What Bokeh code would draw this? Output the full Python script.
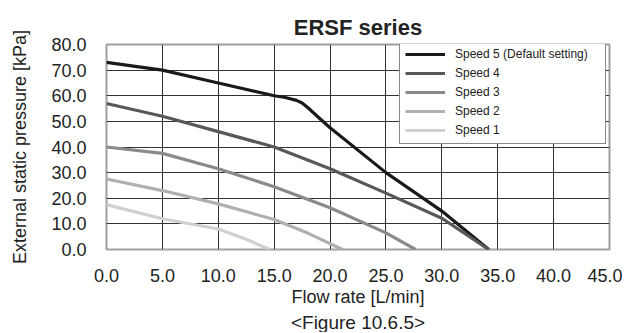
from bokeh.plotting import figure
from bokeh.models import FixedTicker, Legend, LegendItem, Title, CustomJSTickFormatter
from bokeh.embed import file_html
from bokeh.resources import INLINE

# ---- data ----
flow_s5 = [0, 5, 10, 15, 16, 17, 17.5, 18, 19, 20, 25, 30, 34.2]
pres_s5 = [73, 70, 65, 60, 59.3, 58.2, 57.2, 55.4, 51.4, 47.5, 30, 15, 0]
flow_s4 = [0, 5, 10, 15, 20, 25, 30, 34.2]
pres_s4 = [57, 52, 46, 40, 31.5, 22, 12.2, 0]
flow_s3 = [0, 5, 10, 15, 20, 25, 27.65]
pres_s3 = [40, 37.5, 31.5, 24.5, 16.3, 6.5, 0]
flow_s2 = [0, 5, 10, 15, 18, 21.1]
pres_s2 = [27.5, 23, 17.8, 11.7, 6.4, 0]
flow_s1 = [0, 5, 10, 12.5, 14.6]
pres_s1 = [17.5, 12, 8, 4, 0]

series_names = ["Speed 5 (Default setting)", "Speed 4", "Speed 3", "Speed 2", "Speed 1"]
series_colors = ["#1a1a1a", "#585858", "#8a8a8a", "#b0b0b0", "#d0d0d0"]
x_ticks = [0, 5, 10, 15, 20, 25, 30, 35, 40, 45]
y_ticks = [0, 10, 20, 30, 40, 50, 60, 70, 80]

FONT = "Liberation Sans"

p = figure(width=622, height=332, x_range=(0, 45), y_range=(0, 80),
           output_backend="svg", toolbar_location=None,
           min_border_left=106, min_border_right=13, min_border_top=44, min_border_bottom=83)

p.title.text = "ERSF series"
p.title.align = "center"
p.title.text_font = FONT
p.title.text_font_size = "22px"
p.title.text_font_style = "bold"
p.title.text_color = "#222222"
p.title.text_line_height = 1.6

p.outline_line_color = "#a0a0a0"
p.outline_line_width = 2

fmt = CustomJSTickFormatter(code="return tick.toFixed(1);")

for ax, ticks in ((p.xaxis[0], x_ticks), (p.yaxis[0], y_ticks)):
    ax.ticker = FixedTicker(ticks=ticks)
    ax.formatter = fmt
    ax.axis_line_color = None
    ax.major_tick_line_color = None
    ax.minor_tick_line_color = None
    ax.major_tick_out = 0
    ax.major_label_text_font = FONT
    ax.major_label_text_font_size = "18px"
    ax.major_label_text_color = "#222222"
    ax.axis_label_text_font = FONT
    ax.axis_label_text_font_size = "18px"
    ax.axis_label_text_font_style = "normal"
    ax.axis_label_text_color = "#222222"

p.xaxis.axis_label = "Flow rate [L/min]"
p.xaxis.major_label_standoff = 19
p.xaxis.axis_label_standoff = 2
p.yaxis.axis_label = "External static pressure [kPa]"
p.yaxis.major_label_standoff = 20
p.yaxis.axis_label_standoff = 18

p.xgrid.ticker = FixedTicker(ticks=x_ticks[:-1])
p.ygrid.ticker = FixedTicker(ticks=y_ticks)
p.xgrid.grid_line_color = "#333333"
p.ygrid.grid_line_color = "#333333"
p.xgrid.grid_line_width = 1
p.ygrid.grid_line_width = 1
p.ygrid.level = "underlay"
p.xgrid.level = "underlay"

flows = [flow_s5, flow_s4, flow_s3, flow_s2, flow_s1]
pres = [pres_s5, pres_s4, pres_s3, pres_s2, pres_s1]
items = []
for name, col, fx, py in zip(series_names, series_colors, flows, pres):
    r = p.line(fx, py, line_color=col, line_width=3.2, line_join="round")
    items.append(LegendItem(label=name, renderers=[r]))

legend = Legend(items=items, location=(293, 105), orientation="vertical",
                glyph_width=40, glyph_height=16, label_height=16, label_width=145,
                spacing=3, padding=5, margin=0, label_standoff=10,
                label_text_font=FONT, label_text_font_size="12px", label_text_color="#222222",
                border_line_color="#111111", border_line_width=1.5,
                background_fill_color="white", background_fill_alpha=1.0)
p.add_layout(legend, "center")

caption = Title(text="<Figure 10.6.5>", align="center", text_font=FONT,
                text_font_size="19px", text_font_style="normal", text_color="#222222",
                standoff=0)
p.add_layout(caption, "below")

open("out.html", "w").write(file_html(p, INLINE))
